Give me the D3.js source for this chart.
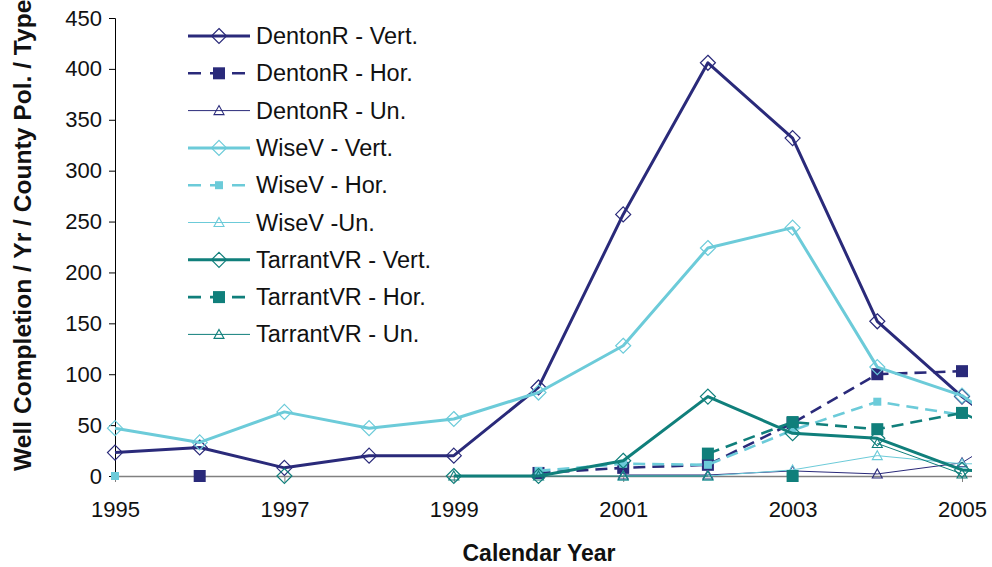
<!DOCTYPE html>
<html>
<head>
<meta charset="utf-8">
<script src="https://cdn.jsdelivr.net/npm/d3@7"></script>
<style>
  html, body { margin: 0; padding: 0; background: #fff; }
  svg { display: block; font-family: "Liberation Sans", Arial, sans-serif; }
</style>
</head>
<body>
<svg id="chart" width="992" height="567"></svg>
<script>
// Calendar years (the last one runs past the visible plot edge)
const years = [1995, 1996, 1997, 1998, 1999, 2000, 2001, 2002, 2003, 2004, 2005, 2006];
const xTickYears = [1995, 1997, 1999, 2001, 2003, 2005];
const yTicks = [0, 50, 100, 150, 200, 250, 300, 350, 400, 450];

// Well completions per year, by county polygon and well type
const dentonVert   = [23, 28, 8, 20, 20, 87, 257, 406, 332, 152, 78, 15];
const dentonHor    = [null, 0, null, null, null, 3, 8, 11, 52, 100, 103, null];
const dentonUn     = [null, null, null, null, null, null, 1, 1, 5, 2, 13, 65];
const wiseVert     = [47, 33, 63, 47, 56, 82, 128, 224, 244, 107, 79, 20];
const wiseHor      = [0, null, null, null, null, 5, 12, 11, 45, 73, 60, null];
const wiseUn       = [null, null, null, null, null, null, 0, 0, 6, 20, 12, 12];
const tarrantVert  = [null, null, 0, null, 0, 0, 15, 78, 42, 37, 6, 0];
const tarrantHor   = [null, null, null, null, null, null, null, 22, 53, 46, 62, 25];
const tarrantUn    = [null, null, null, null, 0, 0, 0, 0, null, 32, 2, null];
const tarrantHorB  = [null, null, null, null, null, null, null, null, 0, null, null, null];

const NAVY = "#2a2a7a", CYAN = "#6ccbd9", TEAL = "#107f7b";

const series = [
  { name: "DentonR - Vert.",   values: dentonVert,  color: NAVY, kind: "vert" },
  { name: "DentonR - Hor.",    values: dentonHor,   color: NAVY, kind: "hor", size: 12 },
  { name: "DentonR - Un.",     values: dentonUn,    color: NAVY, kind: "un" },
  { name: "WiseV - Vert.",     values: wiseVert,    color: CYAN, kind: "vert" },
  { name: "WiseV - Hor.",      values: wiseHor,     color: CYAN, kind: "hor", size: 8 },
  { name: "WiseV -Un.",        values: wiseUn,      color: CYAN, kind: "un" },
  { name: "TarrantVR - Vert.", values: tarrantVert, color: TEAL, kind: "vert" },
  { name: "TarrantVR - Hor.",  values: tarrantHor,  color: TEAL, kind: "hor", size: 12 },
  { name: "TarrantVR - Un.",   values: tarrantUn,   color: TEAL, kind: "un" },
  { name: null,                values: tarrantHorB, color: TEAL, kind: "hor", size: 12, markerOnly: true }
];

const FONT = "'Liberation Sans', Arial, sans-serif";
const svg = d3.select("#chart");
const x = d3.scaleLinear().domain([1995, 2005]).range([115, 962]);
const y = d3.scaleLinear().domain([0, 450]).range([476, 18]);
const plotRight = 972;

svg.append("defs").append("clipPath").attr("id", "plotClip")
  .append("rect").attr("x", 0).attr("y", 0).attr("width", plotRight).attr("height", 567);

// Y axis
const yAxis = svg.append("g").attr("transform", `translate(${x(1995)},0)`)
  .call(d3.axisLeft(y).tickValues(yTicks).tickSize(6).tickPadding(7));
yAxis.select(".domain").attr("stroke", "#000").attr("stroke-width", 1);
yAxis.selectAll(".tick line").attr("stroke", "#000");
yAxis.selectAll(".tick text").attr("font-size", 22).attr("fill", "#111").style("font-family", FONT);

// X axis
const xAxis = svg.append("g").attr("transform", `translate(0,${y(0)})`)
  .call(d3.axisBottom(x).tickValues(xTickYears).tickFormat(d3.format("d")).tickSize(6).tickPadding(19));
xAxis.select(".domain").attr("d", `M${x(1995)},0.5H${plotRight}`).attr("stroke", "#808080").attr("stroke-width", 1.5);
xAxis.selectAll(".tick line").attr("stroke", "#808080");
xAxis.selectAll(".tick text").attr("font-size", 22).attr("fill", "#111").style("font-family", FONT);

// Axis titles
svg.append("text")
  .attr("transform", `translate(31,471) rotate(-90)`)
  .attr("text-anchor", "start")
  .attr("font-size", 24.6).attr("font-weight", "bold").attr("fill", "#111")
  .text("Well Completion / Yr / County Pol. / Type");
svg.append("text")
  .attr("x", 539).attr("y", 561)
  .attr("text-anchor", "middle")
  .attr("font-size", 23).attr("font-weight", "bold").attr("fill", "#111")
  .text("Calendar Year");

// Line and marker styles per well type
function lineStyle(sel, s) {
  if (s.kind === "vert") sel.attr("stroke-width", 3);
  else if (s.kind === "hor") sel.attr("stroke-width", 2.6).attr("stroke-dasharray", "12,7");
  else sel.attr("stroke-width", 1);
  return sel;
}
function drawMarker(g, s, cx, cy) {
  if (s.kind === "vert") {
    const r = 7.5;
    g.append("path")
      .attr("d", `M${cx},${cy - r}L${cx + r},${cy}L${cx},${cy + r}L${cx - r},${cy}Z`)
      .attr("fill", "none").attr("stroke", s.color).attr("stroke-width", 1.2);
  } else if (s.kind === "hor") {
    const h = s.size / 2;
    g.append("rect").attr("x", cx - h).attr("y", cy - h)
      .attr("width", s.size).attr("height", s.size).attr("fill", s.color);
  } else {
    const h = 5;
    g.append("path")
      .attr("d", `M${cx},${cy - h}L${cx + h},${cy + h * 0.8}L${cx - h},${cy + h * 0.8}Z`)
      .attr("fill", "none").attr("stroke", s.color).attr("stroke-width", 1.1);
  }
}

const plot = svg.append("g").attr("clip-path", "url(#plotClip)");
const line = d3.line()
  .defined(d => d.v !== null)
  .x(d => x(d.year)).y(d => y(d.v));

series.forEach(s => {
  const pts = years.map((year, i) => ({ year, v: s.values[i] }));
  const g = plot.append("g");
  if (!s.markerOnly) {
    lineStyle(g.append("path").datum(pts)
      .attr("d", line).attr("fill", "none").attr("stroke", s.color)
      .attr("stroke-linejoin", "round"), s);
  }
  pts.filter(d => d.v !== null).forEach(d => drawMarker(g, s, x(d.year), y(d.v)));
});

// Legend
const legend = svg.append("g");
series.filter(s => s.name).forEach((s, i) => {
  const ly = 36 + i * 37.3;
  const row = legend.append("g");
  lineStyle(row.append("line").attr("x1", 188).attr("x2", 250).attr("y1", ly).attr("y2", ly)
    .attr("stroke", s.color), s);
  if (s.kind === "hor") row.select("line").attr("stroke-dasharray", "13,9");
  drawMarker(row, s, 219, ly);
  row.append("text").attr("x", 256).attr("y", ly + 8)
    .attr("font-size", 23.5).attr("fill", "#111").text(s.name);
});
</script>
</body>
</html>
